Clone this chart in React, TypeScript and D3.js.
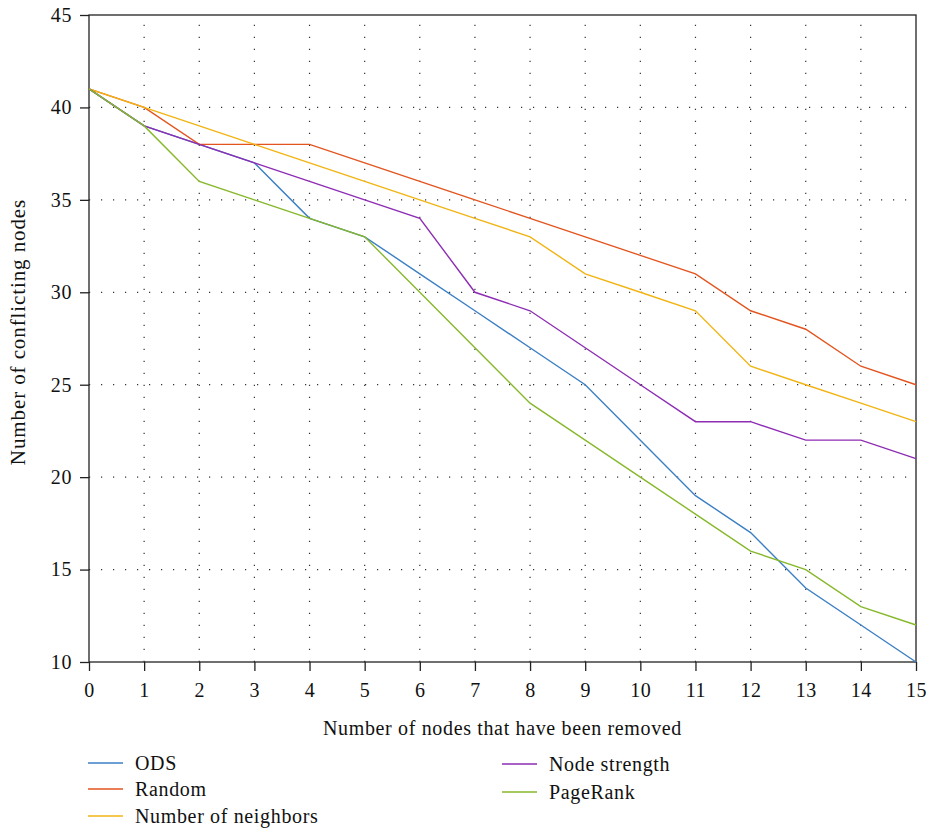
import React, { useEffect, useRef } from "react";
import * as d3 from "d3";

const steps = d3.range(0, 16);
const ods = [41, 39, 38, 37, 34, 33, 31, 29, 27, 25, 22, 19, 17, 14, 12, 10];
const random = [41, 40, 38, 38, 38, 37, 36, 35, 34, 33, 32, 31, 29, 28, 26, 25];
const neighbors = [41, 40, 39, 38, 37, 36, 35, 34, 33, 31, 30, 29, 26, 25, 24, 23];
const strength = [41, 39, 38, 37, 36, 35, 34, 30, 29, 27, 25, 23, 23, 22, 22, 21];
const pagerank = [41, 39, 36, 35, 34, 33, 30, 27, 24, 22, 20, 18, 16, 15, 13, 12];
const yTicks = [10, 15, 20, 25, 30, 35, 40, 45];

const series = [
  { name: "ODS", values: ods, color: "#3b7fc4" },
  { name: "Random", values: random, color: "#e3541f" },
  { name: "Number of neighbors", values: neighbors, color: "#f2b413" },
  { name: "Node strength", values: strength, color: "#8e2db4" },
  { name: "PageRank", values: pagerank, color: "#86b82a" },
];

const font = "'Liberation Serif', 'DejaVu Serif', serif";

const App = () => {
  const ref = useRef<SVGSVGElement>(null);

  useEffect(() => {
    const width = 930;
    const height = 830;
    const m = { top: 15, left: 89, right: 14, bottom: 168 };

    const svg = d3.select(ref.current).attr("width", width).attr("height", height);
    svg.selectAll("*").remove();

    const x = d3.scaleLinear().domain([0, 15]).range([m.left, width - m.right]);
    const y = d3.scaleLinear().domain([10, 45]).range([height - m.bottom, m.top]);

    // dotted grid
    const grid = svg.append("g").attr("stroke", "#333").attr("stroke-width", 1.2)
      .attr("stroke-dasharray", "1.2 10.8");
    grid.selectAll("line.v").data(steps.slice(1, 15)).enter().append("line")
      .attr("x1", (d) => x(d)).attr("x2", (d) => x(d))
      .attr("y1", y(10)).attr("y2", y(45));
    grid.selectAll("line.h").data(yTicks.slice(1, 7)).enter().append("line")
      .attr("x1", x(0)).attr("x2", x(15))
      .attr("y1", (d) => y(d)).attr("y2", (d) => y(d));

    svg.append("rect")
      .attr("x", x(0)).attr("y", y(45))
      .attr("width", x(15) - x(0)).attr("height", y(10) - y(45))
      .attr("fill", "none").attr("stroke", "#222").attr("stroke-width", 1.3);

    const line = d3.line<number>().x((d, i) => x(steps[i])).y((d) => y(d));
    series.forEach((s) => {
      svg.append("path").datum(s.values)
        .attr("d", line).attr("fill", "none")
        .attr("stroke", s.color).attr("stroke-width", 1.4);
    });

    const xAxis = svg.append("g")
      .attr("transform", `translate(0,${y(10)})`)
      .call(d3.axisBottom(x).tickValues(steps).tickFormat(d3.format("d")).tickSize(9));
    xAxis.selectAll("text").attr("y", 35).attr("dy", 0);
    const yAxis = svg.append("g")
      .attr("transform", `translate(${x(0)},0)`)
      .call(d3.axisLeft(y).tickValues(yTicks).tickSize(9).tickPadding(8));
    [xAxis, yAxis].forEach((a) => {
      a.select(".domain").remove();
      a.selectAll("line").attr("stroke", "#222").attr("stroke-width", 1.3);
      a.selectAll("text").attr("font-family", font).attr("font-size", 20)
        .attr("letter-spacing", 0.6).attr("fill", "#111");
    });

    svg.append("text")
      .attr("x", (x(0) + x(15)) / 2).attr("y", 735)
      .attr("text-anchor", "middle").attr("font-family", font).attr("font-size", 20)
      .attr("letter-spacing", 0.65).attr("fill", "#111")
      .text("Number of nodes that have been removed");
    svg.append("text")
      .attr("transform", `translate(25,332) rotate(-90)`)
      .attr("text-anchor", "middle").attr("font-family", font).attr("font-size", 21)
      .attr("letter-spacing", 0.9).attr("fill", "#111")
      .text("Number of conflicting nodes");

    // legend
    const pos = [
      [88, 763], [88, 789], [88, 816], [502, 764], [502, 792],
    ];
    series.forEach((s, i) => {
      const [lx, ly] = pos[i];
      const g = svg.append("g").attr("transform", `translate(${lx},${ly})`);
      g.append("line").attr("x1", 0).attr("x2", 35).attr("y1", 0).attr("y2", 0)
        .attr("stroke", s.color).attr("stroke-width", 1.6);
      g.append("text").attr("x", 47).attr("y", 7)
        .attr("font-family", font).attr("font-size", 20).attr("letter-spacing", 0.65)
        .attr("fill", "#111").text(s.name);
    });
  }, []);

  return <svg ref={ref} style={{ position: "absolute", left: 0, top: 0 }}></svg>;
};

export default App;
